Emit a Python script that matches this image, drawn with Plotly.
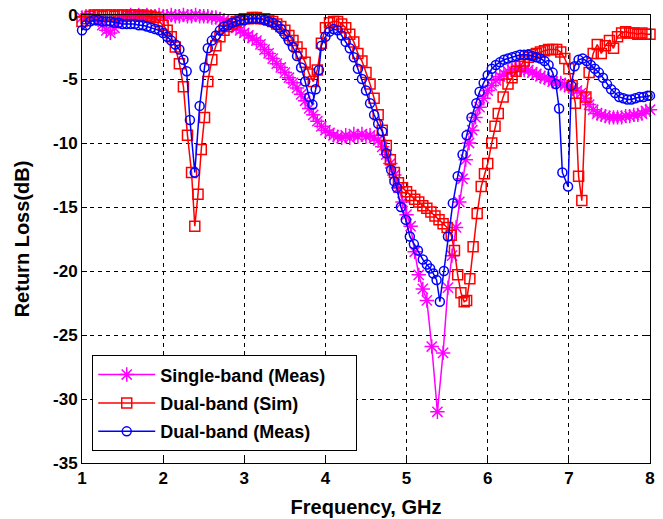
import plotly.graph_objects as go

# ---------------- data ----------------
freq_single = [1.00,1.05,1.10,1.15,1.20,1.25,1.30,1.35,1.40,1.45,1.50,1.55,1.60,1.65,1.70,1.75,1.80,1.85,1.90,1.95,
               2.00,2.05,2.10,2.15,2.20,2.25,2.30,2.35,2.40,2.45,2.50,2.55,2.60,2.65,2.70,2.75,2.80,2.85,2.90,2.95,
               3.00,3.05,3.10,3.15,3.20,3.25,3.30,3.35,3.40,3.45,3.50,3.55,3.60,3.65,3.70,3.75,3.80,3.85,3.90,3.95,
               4.00,4.05,4.10,4.15,4.20,4.25,4.30,4.35,4.40,4.45,4.50,4.55,4.60,4.65,4.70,4.75,4.80,4.85,4.90,4.95,
               5.00,5.05,5.10,5.15,5.20,5.25,5.31,5.38,5.45,5.51,5.56,5.61,5.65,5.69,5.73,5.77,5.81,5.85,5.90,5.95,
               6.00,6.05,6.10,6.15,6.20,6.25,6.30,6.35,6.40,6.45,6.50,6.55,6.60,6.65,6.70,6.75,6.80,6.85,6.90,6.95,
               7.00,7.05,7.10,7.15,7.20,7.25,7.30,7.35,7.40,7.45,7.50,7.55,7.60,7.65,7.70,7.75,7.80,7.85,7.90,7.95,8.00]
rl_single = [-0.2,-0.1,-0.1,-0.2,-0.4,-0.8,-1.2,-1.4,-1.0,-0.5,-0.2,-0.1,0.0,-0.1,0.0,-0.1,0.0,-0.1,-0.1,0.0,
             -0.1,-0.1,0.0,-0.1,-0.1,0.0,-0.1,-0.1,0.0,-0.1,-0.1,-0.1,-0.2,-0.2,-0.3,-0.4,-0.6,-0.8,-1.0,-1.2,
             -1.4,-1.6,-1.8,-2.0,-2.3,-2.7,-3.0,-3.4,-3.8,-4.1,-4.5,-4.9,-5.3,-5.7,-6.2,-6.7,-7.3,-7.8,-8.3,-8.7,
             -9.0,-9.2,-9.4,-9.5,-9.6,-9.4,-9.6,-9.3,-9.5,-9.3,-9.5,-9.4,-9.6,-9.8,-10.3,-10.9,-11.6,-12.5,-13.5,-14.6,
             -15.6,-16.5,-18.5,-20.3,-21.4,-22.3,-25.9,-31.0,-26.4,-21.3,-18.8,-16.6,-14.6,-12.8,-11.3,-10.0,-9.0,-8.0,-7.2,-6.5,
             -5.9,-5.5,-5.1,-4.8,-4.6,-4.4,-4.3,-4.2,-4.2,-4.3,-4.3,-4.5,-4.6,-4.8,-4.9,-5.0,-5.2,-5.3,-5.3,-5.5,
             -5.6,-5.7,-5.9,-6.1,-6.5,-7.0,-7.4,-7.7,-7.8,-7.9,-8.0,-8.0,-8.0,-8.0,-7.9,-7.9,-7.8,-7.8,-7.7,-7.5,-7.4]

freq_sim = [1.00,1.05,1.10,1.15,1.20,1.25,1.30,1.35,1.40,1.45,1.50,1.55,1.60,1.65,1.70,1.75,1.80,1.85,1.90,1.95,
            2.00,2.05,2.10,2.15,2.20,2.25,2.30,2.35,2.39,2.43,2.47,2.51,2.55,2.60,2.65,2.70,2.75,2.80,2.85,2.90,2.95,
            3.00,3.05,3.10,3.15,3.20,3.25,3.30,3.35,3.40,3.45,3.50,3.55,3.60,3.65,3.70,3.75,3.80,3.85,3.90,3.95,
            4.00,4.05,4.10,4.15,4.20,4.25,4.30,4.35,4.40,4.45,4.50,4.55,4.60,4.65,4.70,4.75,4.80,4.85,4.90,4.95,
            5.00,5.05,5.10,5.15,5.20,5.25,5.30,5.35,5.40,5.45,5.50,5.55,5.59,5.63,5.67,5.71,5.74,5.78,5.82,5.87,5.92,5.96,
            6.00,6.05,6.09,6.13,6.19,6.25,6.30,6.35,6.40,6.45,6.50,6.55,6.60,6.65,6.70,6.75,6.80,6.85,6.90,6.95,
            7.00,7.04,7.08,7.12,7.16,7.21,7.25,7.30,7.35,7.40,7.45,7.50,7.55,7.60,7.65,7.70,7.75,7.80,7.85,7.90,7.95,8.00]
rl_sim = [-0.5,-0.3,-0.1,0.0,0.0,-0.1,0.0,0.0,-0.1,0.0,0.0,-0.1,0.0,0.0,-0.1,0.0,-0.1,-0.1,-0.2,-0.5,
          -0.8,-1.2,-1.7,-2.5,-3.8,-5.6,-9.4,-12.3,-16.5,-14.0,-10.5,-8.0,-5.2,-3.5,-2.4,-1.7,-1.2,-0.9,-0.7,-0.5,-0.4,
          -0.3,-0.3,-0.2,-0.2,-0.3,-0.3,-0.4,-0.5,-0.7,-0.9,-1.2,-1.6,-2.0,-2.5,-3.0,-3.7,-4.6,-5.2,-4.3,-2.2,
          -1.0,-0.6,-0.5,-0.5,-0.7,-1.0,-1.5,-2.1,-3.0,-3.6,-4.5,-5.4,-6.5,-7.8,-9.0,-10.2,-11.3,-12.3,-13.1,-13.5,
          -13.8,-14.1,-14.4,-14.6,-14.9,-15.1,-15.4,-15.7,-16.0,-16.3,-16.6,-17.2,-18.4,-20.3,-21.7,-22.4,-22.3,-20.6,-18.1,-15.5,-13.4,-12.4,
          -11.6,-10.0,-8.7,-7.7,-6.4,-5.4,-4.9,-4.4,-4.0,-3.6,-3.3,-3.1,-3.0,-2.9,-2.8,-2.7,-2.7,-2.7,-2.9,-3.4,
          -4.2,-5.5,-6.9,-12.6,-14.5,-6.4,-4.5,-3.0,-2.3,-3.0,-2.4,-2.0,-2.6,-1.7,-1.4,-1.3,-1.4,-1.4,-1.5,-1.4,-1.5,-1.5]

freq_meas = [1.00,1.05,1.10,1.15,1.20,1.25,1.30,1.35,1.40,1.45,1.50,1.55,1.60,1.65,1.70,1.75,1.80,1.85,1.90,1.95,
             2.00,2.05,2.10,2.15,2.20,2.25,2.29,2.33,2.39,2.45,2.51,2.55,2.60,2.65,2.70,2.75,2.80,2.85,2.90,2.95,
             3.00,3.05,3.10,3.15,3.20,3.25,3.30,3.35,3.40,3.45,3.50,3.55,3.60,3.65,3.70,3.75,3.80,3.84,3.88,3.92,3.95,
             4.00,4.05,4.10,4.15,4.20,4.25,4.30,4.35,4.40,4.45,4.50,4.55,4.60,4.65,4.70,4.75,4.81,4.85,4.88,4.93,
             4.99,5.04,5.09,5.14,5.20,5.25,5.29,5.33,5.37,5.41,5.46,5.51,5.57,5.63,5.69,5.74,5.80,5.86,5.90,5.95,
             6.00,6.05,6.10,6.15,6.20,6.25,6.30,6.35,6.40,6.45,6.50,6.55,6.60,6.65,6.70,6.75,6.80,6.84,6.88,6.92,
             6.99,7.03,7.07,7.12,7.17,7.22,7.27,7.32,7.37,7.42,7.47,7.52,7.57,7.62,7.67,7.72,7.77,7.82,7.87,7.92,7.97,8.00]
rl_meas = [-1.2,-0.8,-0.5,-0.4,-0.4,-0.5,-0.5,-0.5,-0.6,-0.6,-0.7,-0.7,-0.7,-0.7,-0.8,-0.8,-0.9,-1.0,-1.1,-1.2,
           -1.4,-1.7,-2.0,-2.3,-2.7,-3.5,-4.4,-8.2,-12.3,-7.1,-4.1,-2.6,-2.0,-1.6,-1.2,-0.9,-0.8,-0.6,-0.5,-0.4,
           -0.4,-0.3,-0.3,-0.3,-0.3,-0.4,-0.5,-0.6,-0.8,-1.1,-1.5,-2.0,-2.5,-3.2,-4.1,-5.2,-6.4,-7.0,-5.8,-4.3,-2.4,
           -1.7,-1.3,-1.1,-1.2,-1.6,-2.1,-2.6,-3.3,-4.2,-5.0,-5.9,-6.9,-7.8,-8.5,-9.1,-10.8,-12.1,-13.0,-13.5,-15.0,
           -16.0,-17.3,-17.9,-18.4,-19.1,-19.5,-19.8,-20.2,-20.7,-22.4,-20.0,-17.3,-14.7,-12.6,-10.9,-9.4,-8.0,-6.9,-6.0,-5.3,
           -4.7,-4.2,-3.9,-3.7,-3.5,-3.4,-3.3,-3.2,-3.1,-3.1,-3.1,-3.2,-3.3,-3.4,-3.6,-3.9,-4.5,-5.4,-7.3,-12.3,
           -13.4,-5.5,-4.0,-3.5,-3.4,-3.6,-3.9,-4.2,-4.5,-4.9,-5.4,-5.8,-6.1,-6.4,-6.5,-6.6,-6.6,-6.5,-6.4,-6.4,-6.3,-6.3]

series_names = ["Single-band (Meas)", "Dual-band (Sim)", "Dual-band (Meas)"]
x_ticks = [1, 2, 3, 4, 5, 6, 7, 8]
y_ticks = [0, -5, -10, -15, -20, -25, -30, -35]

# ---------------- figure ----------------
FONT = "Liberation Sans, Arial, sans-serif"
fig = go.Figure()

styles = [
    dict(color="#FF00FF", symbol="asterisk-open", size=12),
    dict(color="#FF0000", symbol="square-open", size=10),
    dict(color="#0000FF", symbol="circle-open", size=9),
]
data = [(freq_single, rl_single), (freq_sim, rl_sim), (freq_meas, rl_meas)]
PAD = "\u00a0" * 5

for i, ((xs, ys), st, name) in enumerate(zip(data, styles, series_names)):
    fig.add_trace(go.Scatter(
        x=xs, y=ys, name=name + PAD, mode="lines+markers",
        line=dict(color=st["color"], width=1.5),
        marker=dict(symbol=st["symbol"], size=st["size"], color=st["color"],
                    line=dict(color=st["color"], width=1.5)),
        cliponaxis=False, legendgroup=f"g{i}",
    ))

axis_common = dict(
    showline=True, linecolor="black", linewidth=1, mirror="ticks",
    ticks="inside", ticklen=5, tickcolor="black",
    showgrid=True, gridcolor="black", gridwidth=1, griddash="4px,4px",
    zeroline=False, automargin=False,
    tickfont=dict(family=FONT, size=17, color="black", weight="bold"),
)

fig.update_xaxes(range=[1, 8], tickvals=x_ticks, ticktext=[str(v) for v in x_ticks],
                 title=dict(text="Frequency, GHz", font=dict(family=FONT, size=20, color="black", weight="bold"),
                            standoff=12),
                 **axis_common)
fig.update_yaxes(range=[-35, 0], tickvals=y_ticks, ticktext=[str(v) for v in y_ticks],
                 title=dict(text="Return Loss(dB)", font=dict(family=FONT, size=20, color="black", weight="bold"),
                            standoff=18),
                 **axis_common)

fig.update_layout(
    width=663, height=519,
    margin=dict(l=82, r=13, t=15, b=56, autoexpand=False),
    paper_bgcolor="white", plot_bgcolor="white",
    legend=dict(x=0.018, y=0.026, xanchor="left", yanchor="bottom",
                bgcolor="white", bordercolor="black", borderwidth=1,
                font=dict(family=FONT, size=18, color="black", weight="bold"),
                tracegroupgap=2, itemwidth=57),
    showlegend=True,
)

fig.write_html("out.html")
